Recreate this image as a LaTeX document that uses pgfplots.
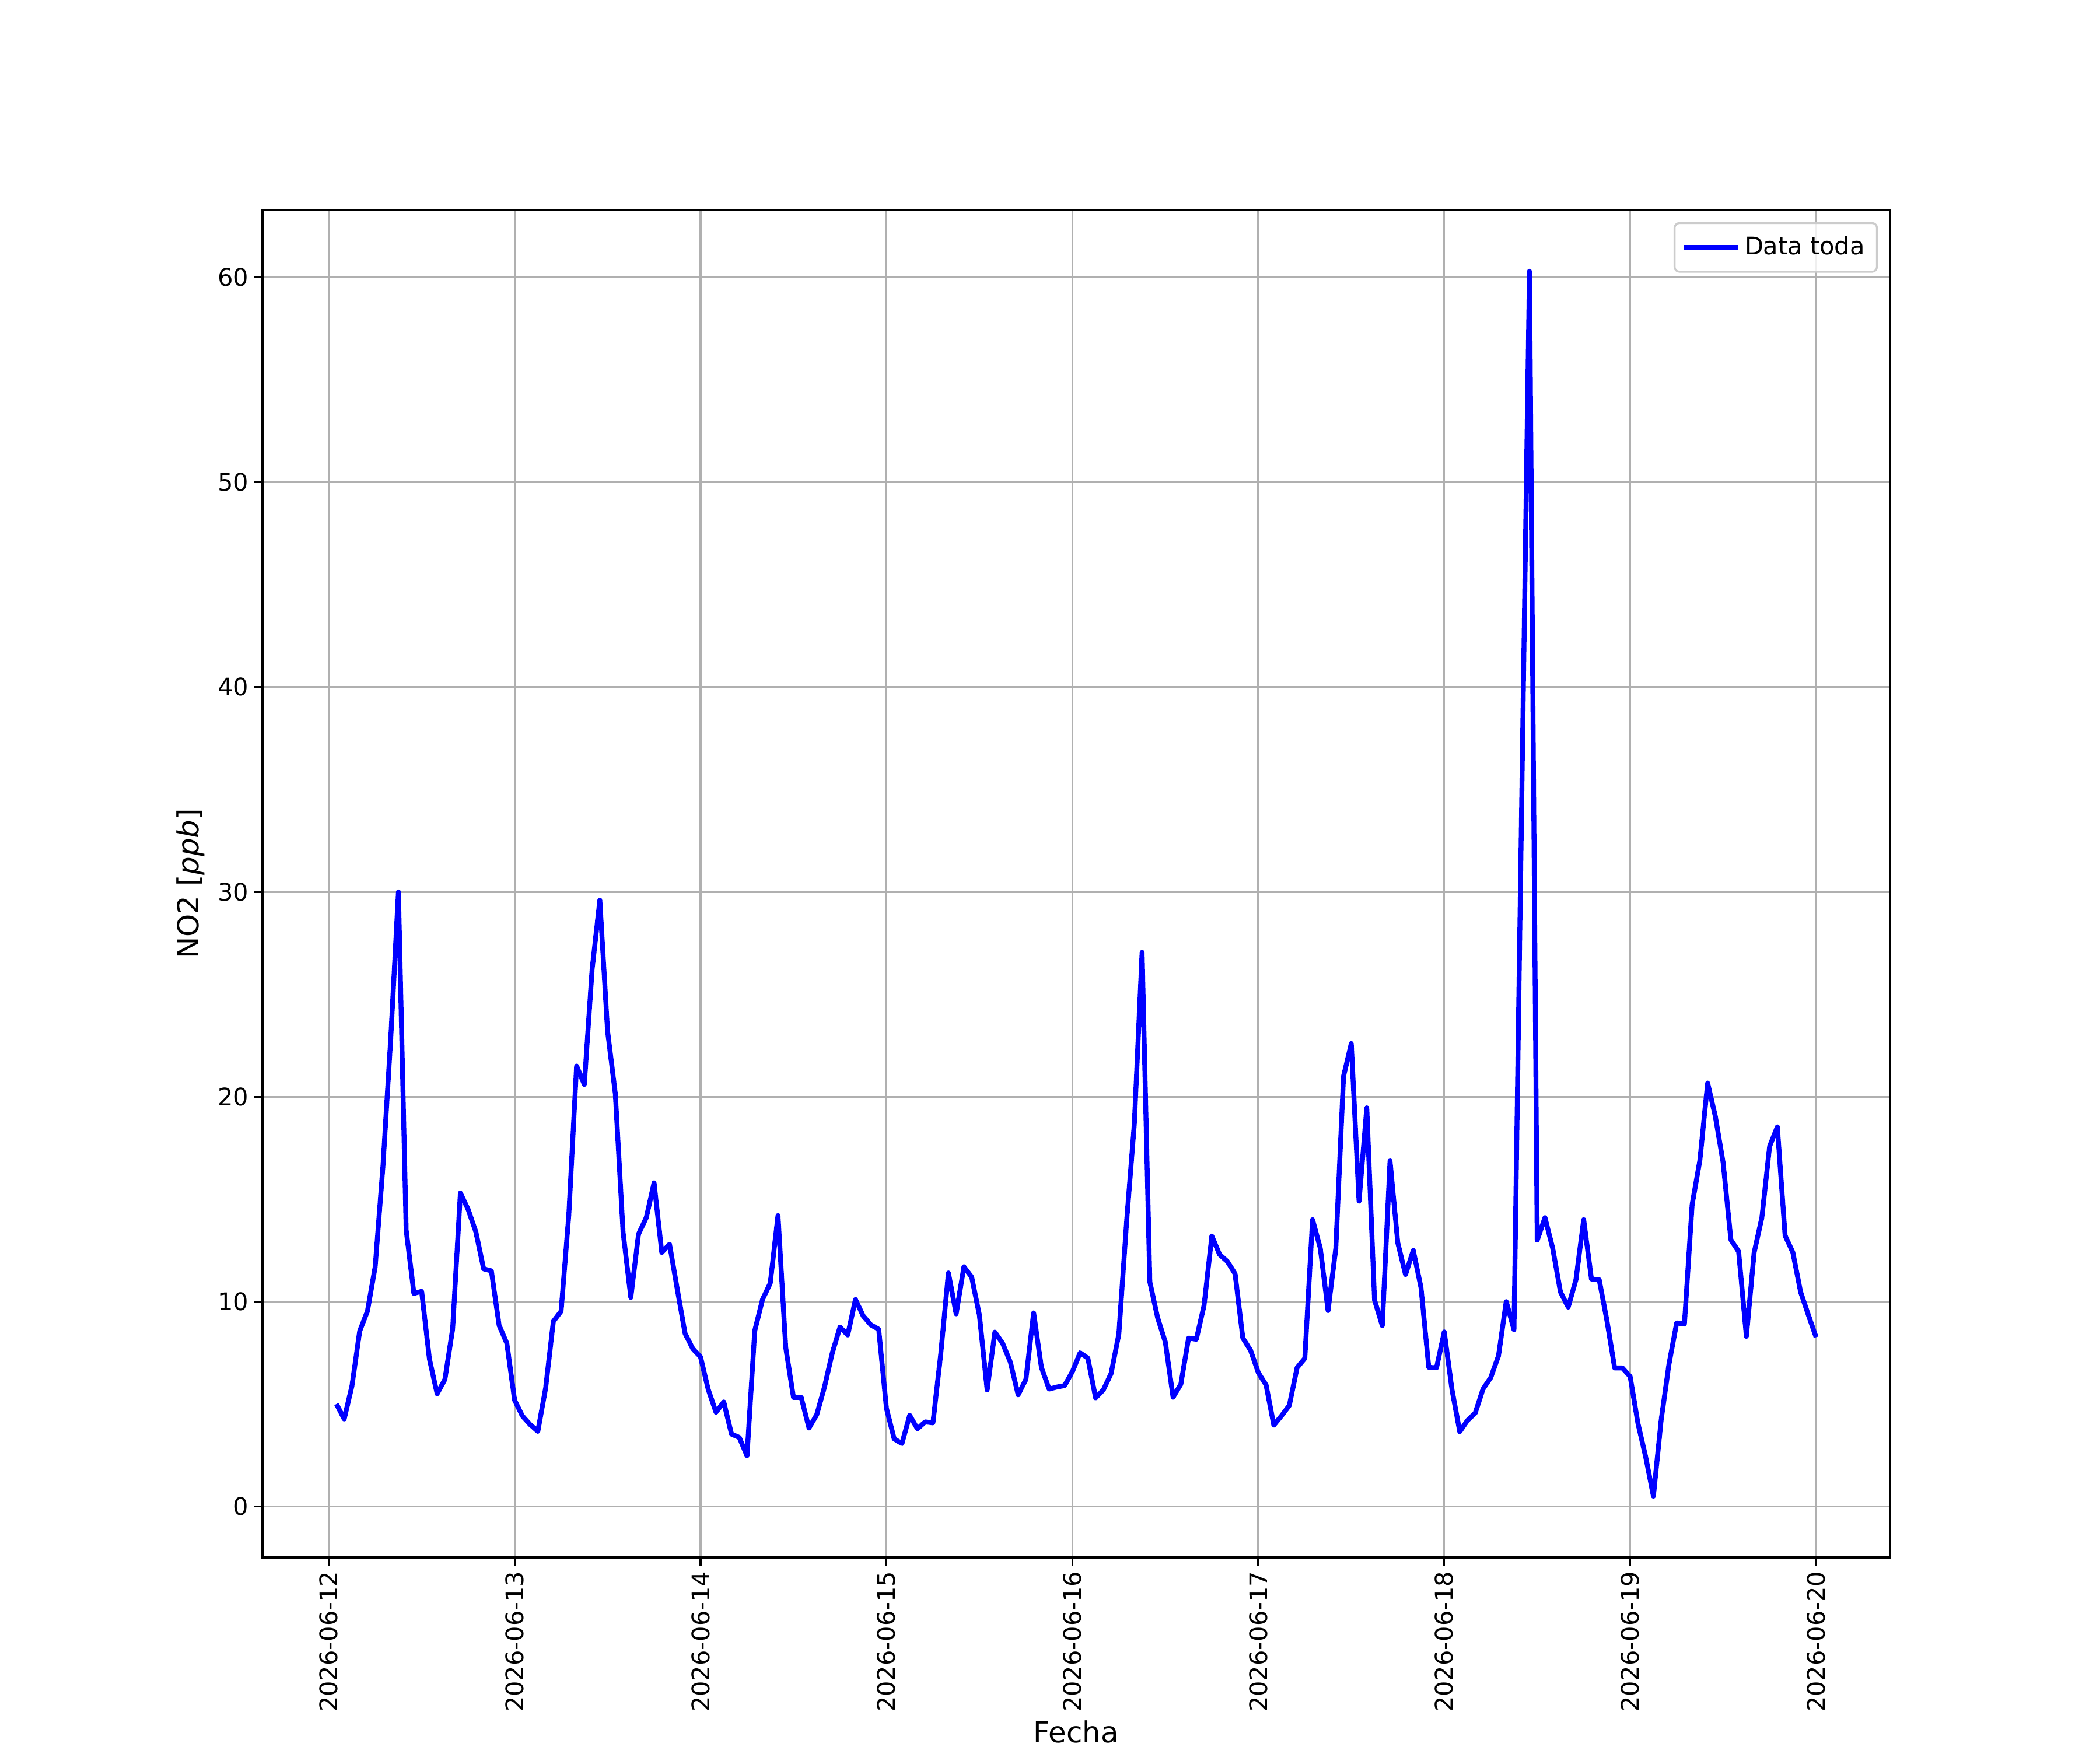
\documentclass[border=0pt]{standalone}
\usepackage{fontspec}
\setmainfont{DejaVu Sans}
\usepackage{pgfplots}
\usepackage{pgfplotstable}
\pgfplotsset{compat=1.18}
\definecolor{gridgray}{HTML}{B0B0B0}
\definecolor{legframe}{HTML}{CCCCCC}
\pgfplotstableread{
h v
1 5.0
2 4.27
3 5.88
4 8.56
5 9.53
6 11.7
7 16.6
8 22.8
9 30.0
10 13.5
11 10.4
12 10.5
13 7.2
14 5.5
15 6.2
16 8.67
17 15.3
18 14.5
19 13.4
20 11.6
21 11.5
22 8.84
23 7.96
24 5.19
25 4.42
26 4.0
27 3.67
28 5.77
29 9.03
30 9.53
31 14.25
32 21.5
33 20.6
34 26.2
35 29.6
36 23.2
37 20.15
38 13.4
39 10.2
40 13.3
41 14.1
42 15.8
43 12.4
44 12.8
45 10.6
46 8.45
47 7.7
48 7.3
49 5.7
50 4.6
51 5.1
52 3.53
53 3.37
54 2.48
55 8.58
56 10.1
57 10.9
58 14.2
59 7.75
60 5.32
61 5.32
62 3.83
63 4.48
64 5.83
65 7.48
66 8.75
67 8.37
68 10.1
69 9.3
70 8.86
71 8.65
72 4.79
73 3.3
74 3.07
75 4.45
76 3.79
77 4.13
78 4.08
79 7.41
80 11.4
81 9.4
82 11.7
83 11.2
84 9.34
85 5.69
86 8.51
87 7.96
88 7.04
89 5.45
90 6.2
91 9.45
92 6.79
93 5.73
94 5.83
95 5.9
96 6.58
97 7.5
98 7.24
99 5.3
100 5.69
101 6.49
102 8.42
103 13.9
104 18.7
105 27.05
106 10.96
107 9.22
108 8.02
109 5.33
110 5.97
111 8.22
112 8.16
113 9.82
114 13.2
115 12.3
116 11.96
117 11.36
118 8.22
119 7.62
120 6.53
121 5.93
122 3.97
123 4.43
124 4.93
125 6.77
126 7.23
127 14.0
128 12.6
129 9.56
130 12.6
131 21.0
132 22.6
133 14.9
134 19.46
135 10.08
136 8.82
137 16.87
138 12.87
139 11.32
140 12.5
141 10.68
142 6.79
143 6.77
144 8.52
145 5.7
146 3.65
147 4.2
148 4.56
149 5.73
150 6.29
151 7.35
152 10.0
153 8.63
155 60.3
156 13.0
157 14.1
158 12.6
159 10.47
160 9.73
161 11.07
162 14.0
163 11.1
164 11.07
165 9.07
166 6.76
167 6.76
168 6.34
169 4.06
170 2.42
171 0.5
172 4.22
173 6.93
174 8.96
175 8.9
176 14.74
177 16.9
178 20.67
179 19.03
180 16.78
181 13.02
182 12.44
183 8.3
184 12.39
185 14.1
186 17.58
187 18.53
188 13.22
189 12.4
190 10.47
191 9.35
192 8.26
}\datatable
\begin{document}
\begin{tikzpicture}
\path[use as bounding box] (0,0) rectangle (12in,10in);
\begin{axis}[
  at={(1.5in,1.1in)}, anchor=south west,
  scale only axis, width=9.3in, height=7.7in,
  xmin=-8.55, xmax=201.55, ymin=-2.49, ymax=63.29,
  xtick={0,24,...,192},
  xticklabels={2026-06-12,2026-06-13,2026-06-14,2026-06-15,2026-06-16,2026-06-17,2026-06-18,2026-06-19,2026-06-20},
  ytick={0,10,...,60},
  tick pos=left, tick align=outside,
  major tick length=3.5bp,
  tick style={black, line width=0.8bp},
  axis line style={line width=0.8bp},
  grid=major,
  major grid style={gridgray, line width=0.8bp},
  /pgf/number format/assume math mode=true,
  ticklabel style={font=\fontsize{10}{12}\selectfont},
  xticklabel style={rotate=90, anchor=east, inner sep=2pt},
  yticklabel style={inner sep=2pt},
  xlabel={Fecha}, ylabel={NO2 [\textit{ppb}]},
  label style={font=\fontsize{12}{14}\selectfont},
  xlabel style={yshift=2pt},
  legend style={at={(1,1)}, anchor=north east, xshift=-5bp, yshift=-5bp,
    draw=legframe, line width=0.8bp, rounded corners=2bp, fill=white, fill opacity=0.8, text opacity=1,
    font=\fontsize{10}{12}\selectfont, inner xsep=3pt, inner ysep=3.5pt},
  legend cell align=left,
  legend image code/.code={\draw[#1] (0pt,0pt) -- (22pt,0pt);},
]
\addplot[color=blue, line width=2bp, line join=round] table[x=h, y=v] {\datatable};
\addlegendentry{Data toda}
\end{axis}
\end{tikzpicture}
\end{document}
